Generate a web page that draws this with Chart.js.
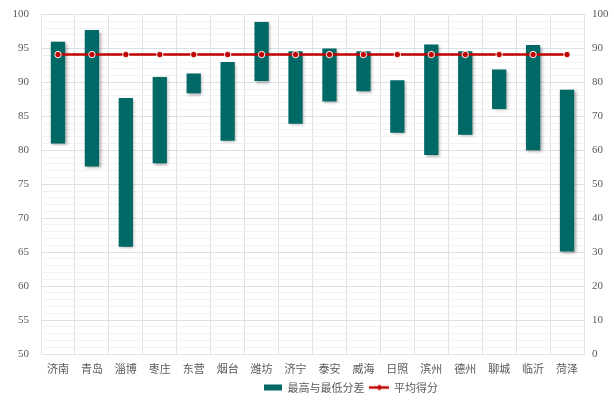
<!DOCTYPE html>
<html><head><meta charset="utf-8">
<script src="https://cdn.jsdelivr.net/npm/chart.js@4/dist/chart.umd.min.js"></script>
<style>html,body{margin:0;padding:0;background:#fff;}#wrap{width:614px;height:404px;}</style>
</head><body><div id="wrap"><canvas id="c" width="614" height="404"></canvas></div>
<script>
const cities = ['济南','青岛','淄博','枣庄','东营','烟台','潍坊','济宁','泰安','威海','日照','滨州','德州','聊城','临沂','菏泽'];
const highs = [96.0, 97.7, 87.7, 90.8, 91.3, 93.0, 98.9, 94.6, 95.0, 94.6, 90.3, 95.6, 94.6, 91.9, 95.5, 88.9];
const lows  = [81.0, 77.6, 65.8, 78.1, 88.4, 81.4, 90.2, 83.9, 87.2, 88.7, 82.6, 79.3, 82.3, 86.1, 80.0, 65.1];
const avgScore = [88.2, 88.2, 88.2, 88.2, 88.2, 88.2, 88.2, 88.2, 88.2, 88.2, 88.2, 88.2, 88.2, 88.2, 88.2, 88.2];
const leftTicks = [50, 55, 60, 65, 70, 75, 80, 85, 90, 95, 100];
const rightTicks = [0, 10, 20, 30, 40, 50, 60, 70, 80, 90, 100];

const TEAL = '#006865';
const RED = '#C00000';
const TXT = '#595959';
const CJK = '"Noto Sans CJK SC", sans-serif';
const SERIF = '"Liberation Serif", "DejaVu Serif", serif';

function iconRect(){
  const c = document.createElement('canvas'); c.width = 18; c.height = 8;
  const x = c.getContext('2d'); x.fillStyle = TEAL; x.fillRect(0,1,18,6); return c;
}
function iconLine(){
  const c = document.createElement('canvas'); c.width = 20; c.height = 8;
  const x = c.getContext('2d'); x.strokeStyle = RED; x.lineWidth = 2.5;
  x.beginPath(); x.moveTo(0,4); x.lineTo(20,4); x.stroke();
  x.fillStyle = RED; x.beginPath(); x.moveTo(10,1); x.lineTo(13,4); x.lineTo(10,7); x.lineTo(7,4); x.closePath(); x.fill();
  return c;
}

const shadowPlugin = {
  id: 'barShadow',
  beforeDatasetDraw(chart, args){
    if (args.meta.type === 'bar'){
      const ctx = chart.ctx; ctx.save();
      ctx.shadowColor = 'rgba(0,0,0,0.35)'; ctx.shadowBlur = 3; ctx.shadowOffsetX = 1.5; ctx.shadowOffsetY = 1.5;
    }
  },
  afterDatasetDraw(chart, args){
    if (args.meta.type === 'bar') chart.ctx.restore();
  }
};
const legendShift = {
  id: 'legendShift',
  afterLayout(chart){ if (chart.legend){ chart.legend.left += 44; chart.legend.right += 44; } }
};

new Chart(document.getElementById('c'), {
  data: {
    labels: cities,
    datasets: [
      { type: 'bar', label: '最高与最低分差', data: lows.map((l,i)=>[l, highs[i]]),
        backgroundColor: TEAL, borderWidth: 0, barPercentage: 0.42, categoryPercentage: 1.0,
        yAxisID: 'y', order: 1 },
      { type: 'line', label: '平均得分', data: avgScore, borderColor: RED, borderWidth: 2.5,
        backgroundColor: RED, pointBackgroundColor: RED, pointBorderColor: '#fff', pointBorderWidth: 1,
        pointRadius: 3.2, pointStyle: 'circle', yAxisID: 'y2', order: 0, fill: false }
    ]
  },
  options: {
    responsive: false, animation: false, devicePixelRatio: 1,
    layout: { padding: { top: 14.5, left: 0, right: 0, bottom: 1 } },
    plugins: {
      tooltip: { enabled: false },
      legend: {
        position: 'bottom',
        labels: {
          usePointStyle: true, color: TXT, font: { family: CJK, size: 11 }, padding: 6,
          boxWidth: 18, boxHeight: 8, pointStyleWidth: 18,
          sort: (a,b) => a.datasetIndex - b.datasetIndex,
          generateLabels(chart){
            return chart.data.datasets.map((d,i)=>({
              text: d.label, datasetIndex: i, fontColor: TXT, hidden: false,
              pointStyle: i === 0 ? iconRect() : iconLine(), lineWidth: 0
            }));
          }
        }
      }
    },
    scales: {
      x: {
        type: 'category', offset: true,
        grid: { color: '#dfe2e8', lineWidth: 1, offset: true, drawTicks: false },
        border: { color: '#dfe2e8' },
        ticks: { color: TXT, font: { family: CJK, size: 11 }, padding: 8, maxRotation: 0 },
        afterFit(s){ s.height = 22; }
      },
      y: {
        type: 'linear', position: 'left', min: 50, max: 100,
        afterBuildTicks(s){ const t=[]; for(let v=50; v<=100; v++) t.push({value:v}); s.ticks = t; },
        ticks: { color: TXT, font: { family: SERIF, size: 11 }, padding: 12, autoSkip: false,
          callback: v => leftTicks.includes(v) ? String(v) : '' },
        grid: { drawTicks: false, color: c => (c.tick && c.tick.value % 5 === 0) ? '#dde0e7' : '#f1f2f5' },
        border: { display: false },
        afterFit(s){ s.width = 41; s.paddingTop = 0; s.paddingBottom = 0; }
      },
      y2: {
        type: 'linear', position: 'right', min: 0, max: 100,
        afterBuildTicks(s){ s.ticks = rightTicks.map(v=>({value:v})); },
        ticks: { color: TXT, font: { family: SERIF, size: 11 }, padding: 8 },
        grid: { drawOnChartArea: false, drawTicks: false },
        border: { display: false },
        afterFit(s){ s.width = 30; s.paddingTop = 0; s.paddingBottom = 0; }
      }
    }
  },
  plugins: [shadowPlugin, legendShift]
});
</script></body></html>
